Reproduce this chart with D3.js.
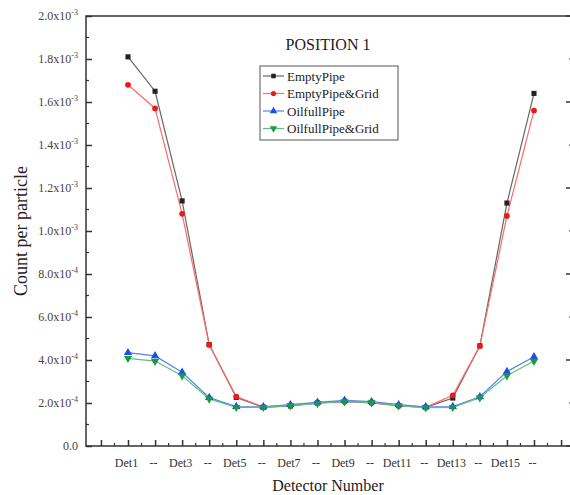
<!DOCTYPE html>
<html><head><meta charset="utf-8">
<script src="https://cdn.jsdelivr.net/npm/d3@7"></script>
<style>body{margin:0;background:#fff}svg{display:block}</style>
</head><body>
<svg id="c" width="570" height="495"></svg>
<script>
const detectors = d3.range(1, 17);
const xTickLabels = ["Det1","--","Det3","--","Det5","--","Det7","--","Det9","--","Det11","--","Det13","--","Det15","--"];
const emptyPipe      = [1.81e-3,1.65e-3,1.14e-3,4.72e-4,2.26e-4,1.80e-4,1.86e-4,2.00e-4,2.08e-4,2.03e-4,1.88e-4,1.80e-4,2.23e-4,4.66e-4,1.13e-3,1.64e-3];
const emptyPipeGrid  = [1.68e-3,1.57e-3,1.08e-3,4.70e-4,2.30e-4,1.82e-4,1.90e-4,2.02e-4,2.06e-4,2.00e-4,1.86e-4,1.80e-4,2.36e-4,4.65e-4,1.07e-3,1.56e-3];
const oilfullPipe    = [4.34e-4,4.19e-4,3.43e-4,2.25e-4,1.83e-4,1.82e-4,1.92e-4,2.03e-4,2.12e-4,2.06e-4,1.92e-4,1.82e-4,1.83e-4,2.29e-4,3.46e-4,4.15e-4];
const oilfullPipeGrid= [4.08e-4,3.95e-4,3.27e-4,2.19e-4,1.80e-4,1.80e-4,1.88e-4,1.98e-4,2.06e-4,2.02e-4,1.88e-4,1.78e-4,1.80e-4,2.25e-4,3.27e-4,3.95e-4];
const seriesNames = ["EmptyPipe","EmptyPipe&Grid","OilfullPipe","OilfullPipe&Grid"];
const yTicks = d3.range(0, 11).map(i => i * 2e-4);

const series = [
  {name: seriesNames[0], values: emptyPipe, marker: d3.symbolSquare, size: 26, fill: "#222", line: "#666"},
  {name: seriesNames[1], values: emptyPipeGrid, marker: d3.symbolCircle, size: 26, fill: "#f01818", line: "#ff6a6a"},
  {name: seriesNames[2], values: oilfullPipe, marker: d3.symbolTriangle, size: 30, fill: "#1a4fe8", line: "#5a82f0", rot: 0},
  {name: seriesNames[3], values: oilfullPipeGrid, marker: d3.symbolTriangle, size: 30, fill: "#1a9a48", line: "#5cc080", rot: 180}
];

const svg = d3.select("#c");
const L = 86, R = 572, T = 16, B = 446;
const x = d3.scaleLinear().domain([1, 16]).range([128, 534]);
const y = d3.scaleLinear().domain([0, 2e-3]).range([B, T]);
const serif = "'Liberation Serif','Times New Roman',serif";

// frame
svg.append("rect").attr("x", L).attr("y", T).attr("width", R - L).attr("height", B - T)
  .attr("fill", "none").attr("stroke", "#333").attr("stroke-width", 1.5);

// y ticks (left)
const yMinor = d3.range(1, 20, 2).map(i => i * 1e-4);
const gy = svg.append("g").attr("transform", `translate(${L},0)`)
  .call(d3.axisLeft(y).tickValues(yTicks).tickSize(-6).tickPadding(8)
    .tickFormat(v => v));
gy.select(".domain").remove();
gy.selectAll(".tick line").attr("stroke", "#333").attr("stroke-width", 1.5);
gy.selectAll(".tick text").each(function(v) {
  const t = d3.select(this).text("").attr("font-family", serif).attr("font-size", 12).attr("fill", "#444");
  if (v === 0) { t.text("0.0"); return; }
  const e = Math.floor(Math.log10(v) + 1e-9);
  const m = v / Math.pow(10, e);
  t.append("tspan").text(m.toFixed(1) + "x10");
  t.append("tspan").attr("font-size", 8).attr("dy", -5).text(e);
});
svg.append("g").selectAll("line").data(yMinor).join("line")
  .attr("x1", L).attr("x2", L + 3).attr("y1", d => y(d)).attr("y2", d => y(d))
  .attr("stroke", "#333").attr("stroke-width", 1.2);

// right ticks
const rMajor = d3.range(0, 6).map(i => i * 4e-4);
const rMinor = d3.range(0, 5).map(i => i * 4e-4 + 2e-4);
const gr = svg.append("g");
gr.selectAll("line.M").data(rMajor).join("line").attr("class","M")
  .attr("x1", R).attr("x2", R - 6).attr("y1", d => y(d)).attr("y2", d => y(d))
  .attr("stroke", "#333").attr("stroke-width", 1.5);
gr.selectAll("line.m").data(rMinor).join("line").attr("class","m")
  .attr("x1", R).attr("x2", R - 3).attr("y1", d => y(d)).attr("y2", d => y(d))
  .attr("stroke", "#333").attr("stroke-width", 1.2);

// x axis
const xMajor = d3.range(0, 18);
const xMinor = d3.range(0, 17).map(i => i + 0.5);
const gx = svg.append("g").attr("transform", `translate(0,${B})`)
  .call(d3.axisBottom(x).tickValues(xMajor).tickSize(-6).tickPadding(12)
    .tickFormat(d => (d >= 1 && d <= 16) ? xTickLabels[d - 1] : ""));
gx.select(".domain").remove();
gx.selectAll(".tick line").attr("stroke", "#333").attr("stroke-width", 1.5);
gx.selectAll(".tick text").attr("font-family", serif).attr("font-size", 12).attr("fill", "#333").attr("dx", -2);
svg.append("g").selectAll("line").data(xMinor).join("line")
  .attr("y1", B).attr("y2", B - 3).attr("x1", d => x(d)).attr("x2", d => x(d))
  .attr("stroke", "#333").attr("stroke-width", 1.2);

// lines and markers
const line = d3.line().x((d, i) => x(detectors[i])).y(d => y(d));
series.forEach(s => {
  svg.append("path").datum(s.values).attr("d", line).attr("fill", "none")
    .attr("stroke", s.line).attr("stroke-width", 1.2);
});
series.forEach(s => {
  svg.append("g").selectAll("path").data(s.values).join("path")
    .attr("d", d3.symbol(s.marker, s.size))
    .attr("transform", (d, i) => `translate(${x(detectors[i])},${y(d)}) rotate(${s.rot || 0})`)
    .attr("fill", s.fill);
});

// title
svg.append("text").attr("x", 328).attr("y", 50).attr("text-anchor", "middle")
  .attr("font-family", serif).attr("font-size", 16).attr("fill", "#222").text("POSITION 1");

// legend
const lg = svg.append("g");
const lx = 260, ly = 66, lw = 138, rowH = 17.5;
lg.append("rect").attr("x", lx).attr("y", ly).attr("width", lw).attr("height", rowH * 4 + 4)
  .attr("fill", "#fff").attr("stroke", "#555").attr("stroke-width", 1);
series.forEach((s, i) => {
  const cy = ly + 10 + i * rowH;
  lg.append("line").attr("x1", lx + 3).attr("x2", lx + 24).attr("y1", cy).attr("y2", cy)
    .attr("stroke", s.line).attr("stroke-width", 1.2);
  lg.append("path").attr("d", d3.symbol(s.marker, s.size * 0.8))
    .attr("transform", `translate(${lx + 13.5},${cy}) rotate(${s.rot || 0})`).attr("fill", s.fill);
  lg.append("text").attr("x", lx + 27).attr("y", cy + 4.5).attr("font-family", serif)
    .attr("font-size", 13).attr("fill", "#222").text(s.name);
});

// axis titles
svg.append("text").attr("transform", "translate(27,231) rotate(-90)").attr("text-anchor", "middle")
  .attr("font-family", serif).attr("font-size", 18).attr("fill", "#222").text("Count per particle");
svg.append("text").attr("x", 328).attr("y", 491).attr("text-anchor", "middle")
  .attr("font-family", serif).attr("font-size", 16).attr("fill", "#222").text("Detector Number");
</script>
</body></html>
